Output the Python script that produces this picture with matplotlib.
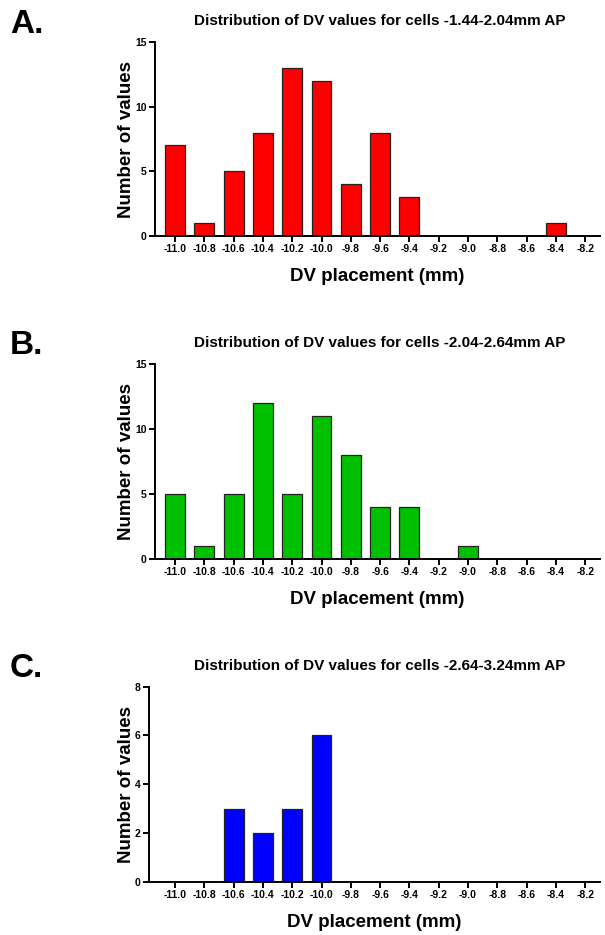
import numpy as np
import matplotlib.pyplot as plt

plt.rcParams['font.family'] = ['Liberation Sans', 'DejaVu Sans']
plt.rcParams['font.weight'] = 'bold'

dv_labels = ['-11.0', '-10.8', '-10.6', '-10.4', '-10.2', '-10.0', '-9.8', '-9.6',
             '-9.4', '-9.2', '-9.0', '-8.8', '-8.6', '-8.4', '-8.2']

counts_a = [7, 1, 5, 8, 13, 12, 4, 8, 3, 0, 0, 0, 0, 1, 0]
counts_b = [5, 1, 5, 12, 5, 11, 8, 4, 4, 0, 1, 0, 0, 0, 0]
counts_c = [0, 0, 3, 2, 3, 6, 0, 0, 0, 0, 0, 0, 0, 0, 0]

titles = ['Distribution of DV values for cells -1.44-2.04mm AP',
          'Distribution of DV values for cells -2.04-2.64mm AP',
          'Distribution of DV values for cells -2.64-3.24mm AP']
letters = ['A.', 'B.', 'C.']
colors = ['#ff0000', '#00c000', '#0000ff']
y_max = [15, 15, 8]
y_ticks = [[0, 5, 10, 15], [0, 5, 10, 15], [0, 2, 4, 6, 8]]

# axes boxes in figure pixels: left, top(px from top), bottom(px from top)
W, H = 605, 935
boxes = [(155, 42.3, 235.7), (155, 364, 559), (149, 686.7, 881.7)]
right_px = 600

fig = plt.figure(figsize=(6.05, 9.35), dpi=100)
x = np.arange(len(dv_labels))
for i, counts in enumerate([counts_a, counts_b, counts_c]):
    left, top, bot = boxes[i]
    ax = fig.add_axes([left / W, 1 - bot / H, (right_px - left) / W, (bot - top) / H])
    ax.bar(x, counts, width=0.68, color=colors[i], edgecolor='#222222', linewidth=0.9)
    x0 = -(175 - left) / 29.3
    ax.set_xlim(x0, x0 + (right_px - left) / 29.3)
    ax.set_ylim(0, y_max[i])
    ax.set_xticks(x)
    ax.set_xticklabels(dv_labels, fontsize=7.5, fontweight='bold')
    ax.set_yticks(y_ticks[i])
    ax.set_yticklabels([str(t) for t in y_ticks[i]], fontsize=7.5, fontweight='bold')
    ax.spines['top'].set_visible(False)
    ax.spines['right'].set_visible(False)
    ax.spines['left'].set_linewidth(1.4)
    ax.spines['bottom'].set_linewidth(1.4)
    ax.tick_params(axis='both', direction='out', width=1.4, length=4, pad=2)
    ax.set_xlabel('DV placement (mm)', fontsize=13.5, fontweight='bold', labelpad=10)
    ax.set_ylabel('Number of values', fontsize=13.5, fontweight='bold', labelpad=0)
    fig.text(380 / W, 1 - (top - 21) / H, titles[i], ha='center', va='center',
             fontsize=11, fontweight='bold')
    fig.text(10 / W, 1 - (top - 18) / H, letters[i], ha='left', va='center',
             fontsize=24, fontweight='bold')

plt.savefig('out.png', dpi=100)
plt.close()
